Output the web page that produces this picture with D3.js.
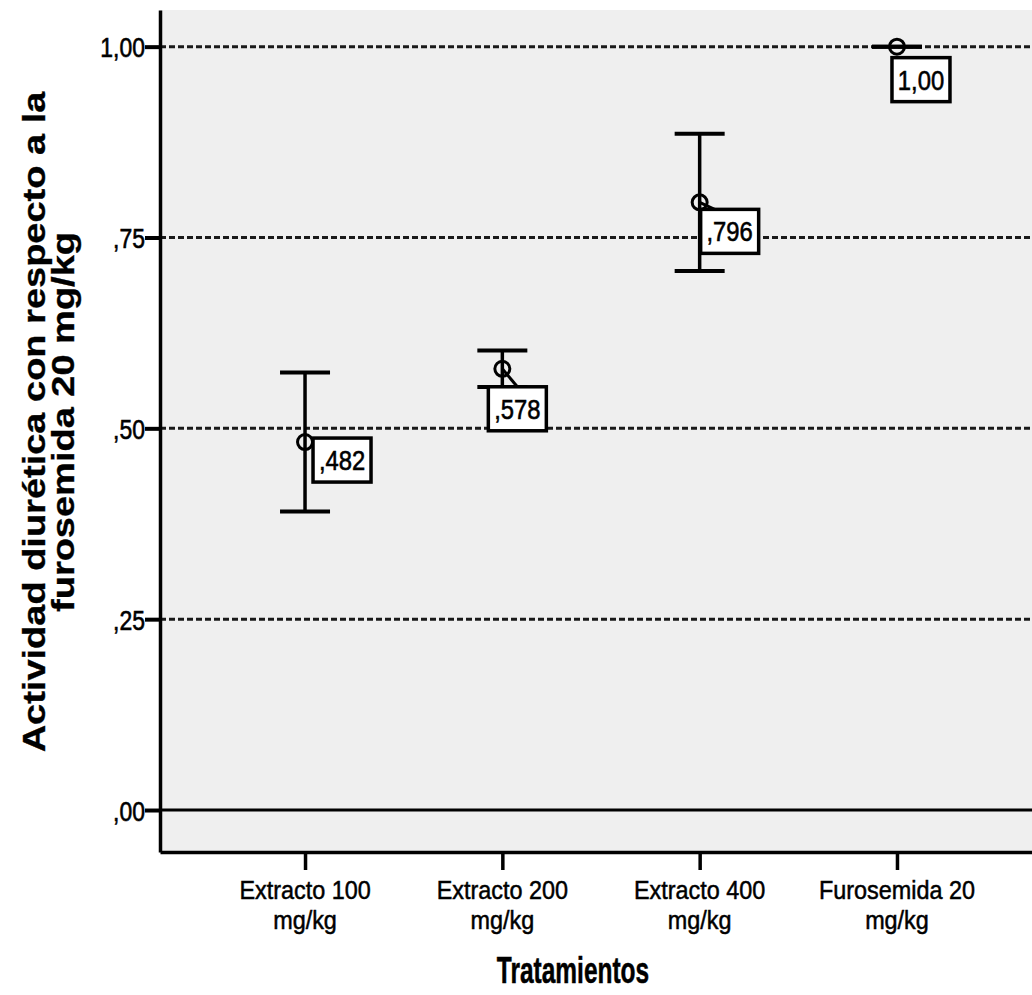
<!DOCTYPE html>
<html>
<head>
<meta charset="utf-8">
<script src="https://cdn.jsdelivr.net/npm/d3@7"></script>
<style>
  body { margin: 0; background: #ffffff; }
  svg { display: block; }
</style>
</head>
<body>
<svg id="chart" width="1032" height="995"></svg>
<script>
// Treatment groups (second line of each label after "\n")
const categories = [
  "Extracto 100\nmg/kg",
  "Extracto 200\nmg/kg",
  "Extracto 400\nmg/kg",
  "Furosemida 20\nmg/kg"
];
// Mean diuretic activity relative to furosemide 20 mg/kg
const means = [0.482, 0.578, 0.796, 1.00];
// Confidence interval bounds
const upperCI = [0.573, 0.602, 0.886, 1.00];
const lowerCI = [0.391, 0.554, 0.706, 1.00];
// Value-axis ticks
const yTicks = [0, 0.25, 0.5, 0.75, 1.0];
const yTitleLines = ["Actividad diurética con respecto a la", "furosemida 20 mg/kg"];
const xTitle = "Tratamientos";

// Placement of each value box relative to its marker, and whether a leader line is drawn
const labelShift = [[8, -4], [-14, 18], [1, 7], [-5, 11]];
const labelLeader = [false, true, true, false];

const FONT = "'Liberation Sans', Arial, Helvetica, sans-serif";
const SX = 0.85; // horizontal glyph compression used for chart text

// SPSS-style number format: comma decimal, no leading zero
function spss(v, digits) {
  let s = d3.format("." + digits + "f")(v);
  if (s.startsWith("0.")) s = s.slice(1);
  return s.replace(".", ",");
}
const valueText = v => (v >= 1 ? spss(v, 2) : spss(v, 3));
const tickText = v => spss(v, 2);

const svg = d3.select("#chart");

const plot = { left: 160, right: 1042, top: 10, bottom: 852 };

const x = d3.scalePoint()
  .domain(categories)
  .range([plot.left, plot.right])
  .padding(0.735);

const y = d3.scaleLinear()
  .domain([-0.055, 1.048])
  .range([plot.bottom, plot.top]);

// Plot background (light grey fill)
svg.append("rect")
  .attr("x", plot.left).attr("y", plot.top)
  .attr("width", plot.right - plot.left)
  .attr("height", plot.bottom - plot.top)
  .attr("fill", "#efefef");

// Dashed reference lines at the positive ticks
svg.append("g")
  .selectAll("line")
  .data(yTicks.filter(t => t > 0))
  .join("line")
  .attr("x1", plot.left).attr("x2", plot.right)
  .attr("y1", d => y(d)).attr("y2", d => y(d))
  .attr("stroke", "#1a1a1a")
  .attr("stroke-width", 3)
  .attr("stroke-dasharray", "6,3");

// Solid zero line
svg.append("line")
  .attr("x1", plot.left).attr("x2", plot.right)
  .attr("y1", y(0)).attr("y2", y(0))
  .attr("stroke", "#000").attr("stroke-width", 3);

// Left axis
const yAxisG = svg.append("g")
  .attr("transform", `translate(${plot.left},0)`)
  .call(d3.axisLeft(y).tickValues(yTicks).tickFormat(tickText).tickSize(15).tickSizeOuter(0));
yAxisG.select(".domain").attr("stroke-width", 3.5);
yAxisG.selectAll(".tick line").attr("stroke-width", 4);
yAxisG.selectAll(".tick text")
  .attr("x", null).attr("dy", null)
  .attr("text-anchor", "end")
  .attr("transform", `translate(-15,10) scale(${SX},1)`)
  .attr("font-family", FONT)
  .attr("font-size", 27)
  .attr("fill", "#000")
  .attr("stroke", "#000")
  .attr("stroke-width", 0.6);

// Bottom axis
const xAxisG = svg.append("g")
  .attr("transform", `translate(0,${plot.bottom})`)
  .call(d3.axisBottom(x).tickSize(18).tickSizeOuter(0).tickFormat(""));
xAxisG.select(".domain").attr("stroke-width", 3.5);
xAxisG.selectAll(".tick line").attr("stroke-width", 3.5);
xAxisG.selectAll(".tick text").remove();

// Two-line category labels, one text element per category
const catLabels = svg.append("g");
categories.forEach(c => {
  const t = catLabels.append("text")
    .attr("transform", `translate(${x(c)},899) scale(0.9,1)`)
    .attr("text-anchor", "middle")
    .attr("font-family", FONT)
    .attr("font-size", 26)
    .attr("fill", "#000")
    .attr("stroke", "#000")
    .attr("stroke-width", 0.5);
  c.split("\n").forEach((line, i) => {
    t.append("tspan")
      .attr("x", 0)
      .attr("y", i * 30)
      .text(line);
  });
});

// Axis titles
svg.append("text")
  .attr("transform", `translate(573,983) scale(0.68,1)`)
  .attr("text-anchor", "middle")
  .attr("font-family", FONT)
  .attr("font-weight", "bold")
  .attr("font-size", 36)
  .attr("fill", "#000")
  .attr("stroke", "#000")
  .attr("stroke-width", 0.5)
  .text(xTitle);

yTitleLines.forEach((line, i) => {
  svg.append("text")
    .attr("transform", `translate(${45 + i * 29},422) rotate(-90) scale(1,0.82)`)
    .attr("text-anchor", "middle")
    .attr("font-family", FONT)
    .attr("font-weight", "bold")
    .attr("font-size", 38)
    .attr("fill", "#000")
    .attr("stroke", "#000")
    .attr("stroke-width", 0.4)
    .text(line);
});

// Error bars
const bars = svg.append("g");
categories.forEach((c, i) => {
  const cx = x(c);
  bars.append("line")
    .attr("x1", cx).attr("x2", cx)
    .attr("y1", y(lowerCI[i])).attr("y2", y(upperCI[i]))
    .attr("stroke", "#000").attr("stroke-width", 3.5);
  [upperCI[i], lowerCI[i]].forEach(v => {
    bars.append("line")
      .attr("x1", cx - 25).attr("x2", cx + 25)
      .attr("y1", y(v)).attr("y2", y(v))
      .attr("stroke", "#000").attr("stroke-width", 4);
  });
});

// Mean markers
svg.append("g")
  .selectAll("circle")
  .data(means)
  .join("circle")
  .attr("cx", (d, i) => x(categories[i]))
  .attr("cy", d => y(d))
  .attr("r", 7.5)
  .attr("fill", "none")
  .attr("stroke", "#000")
  .attr("stroke-width", 3);

// Value boxes
const boxW = 58, boxH = 44;
const labels = svg.append("g");
means.forEach((m, i) => {
  const cx = x(categories[i]), cy = y(m);
  const bx = cx + labelShift[i][0], by = cy + labelShift[i][1];
  if (labelLeader[i]) {
    labels.append("line")
      .attr("x1", cx).attr("y1", cy)
      .attr("x2", cx + 15).attr("y2", by)
      .attr("stroke", "#000").attr("stroke-width", 3);
  }
  labels.append("rect")
    .attr("x", bx).attr("y", by)
    .attr("width", boxW).attr("height", boxH)
    .attr("fill", "#ffffff")
    .attr("stroke", "#000").attr("stroke-width", 3.5);
  labels.append("text")
    .attr("transform", `translate(${bx + boxW / 2},${by + boxH / 2 + 10}) scale(${SX},1)`)
    .attr("text-anchor", "middle")
    .attr("font-family", FONT)
    .attr("font-size", 28)
    .attr("fill", "#000")
    .attr("stroke", "#000")
    .attr("stroke-width", 0.6)
    .text(valueText(m));
});
</script>
</body>
</html>
